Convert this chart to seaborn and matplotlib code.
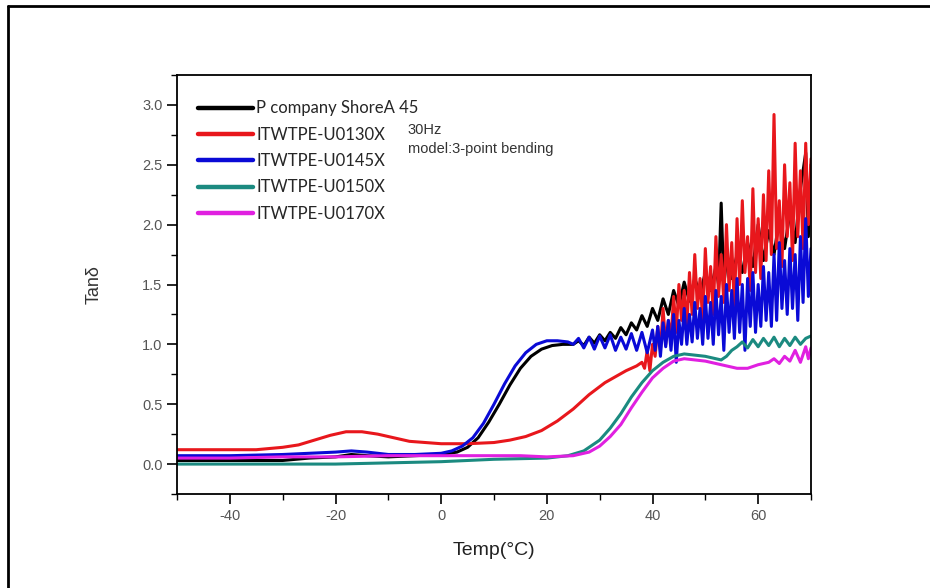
import numpy as np
import pandas as pd
import matplotlib
matplotlib.use("Agg")
import matplotlib.pyplot as plt
import seaborn as sns
from matplotlib.ticker import MultipleLocator
from matplotlib.lines import Line2D

series_names = ["P company ShoreA 45", "ITWTPE-U0130X", "ITWTPE-U0145X",
                "ITWTPE-U0150X", "ITWTPE-U0170X"]
colors = ["#000000", "#e8171c", "#0a0ad6", "#1b8a80", "#e020e0"]

black_x = [-50, -40, -30, -25, -20, -17, -14, -10, -5, 0, 3, 5, 7, 9, 11, 13, 15, 17, 19, 21, 23, 25,
           26, 27, 28, 29, 30, 31, 32, 33, 34, 35, 36, 37, 38, 39, 40, 41, 42, 43, 44, 45, 46, 47, 48,
           49, 50, 51, 52, 52.5, 53, 53.5, 54, 55, 56, 57, 58, 59, 60, 61, 62, 63, 64, 65, 66, 67, 68,
           69, 69.5, 70]
black_y = [0.03, 0.03, 0.03, 0.05, 0.06, 0.08, 0.07, 0.06, 0.07, 0.08, 0.10, 0.14, 0.22, 0.35, 0.50,
           0.66, 0.80, 0.90, 0.96, 0.99, 1.00, 1.00,
           1.03, 0.99, 1.06, 1.01, 1.08, 1.03, 1.10, 1.05, 1.14, 1.08, 1.18, 1.12, 1.24, 1.15, 1.30,
           1.20, 1.38, 1.25, 1.45, 1.32, 1.52, 1.36, 1.55, 1.42, 1.60, 1.45, 1.65, 1.50, 2.18, 1.50,
           1.70, 1.55, 1.75, 1.60, 1.85, 1.65, 2.00, 1.70, 1.95, 1.75, 2.05, 1.80, 2.10, 1.85, 2.30,
           2.60, 1.90, 2.50]

red_x = [-50, -40, -35, -30, -27, -24, -21, -18, -15, -12, -9, -6, -3, 0, 5, 10, 13, 16, 19, 22, 25,
         28, 31, 33, 35, 37,
         38, 38.5, 39, 39.5, 40, 40.5, 41, 41.5, 42, 42.5, 43, 43.5, 44, 44.5, 45, 45.5, 46, 46.5,
         47, 47.5, 48, 48.5, 49, 49.5, 50, 50.5, 51, 51.5, 52, 52.5, 53, 53.5, 54, 54.5, 55, 55.5,
         56, 56.5, 57, 57.5, 58, 58.5, 59, 59.5, 60, 60.5, 61, 61.5, 62, 62.5, 63, 63.5, 64, 64.5,
         65, 65.5, 66, 66.5, 67, 67.5, 68, 68.5, 69, 69.5, 70]
red_y = [0.12, 0.12, 0.12, 0.14, 0.16, 0.20, 0.24, 0.27, 0.27, 0.25, 0.22, 0.19, 0.18, 0.17, 0.17,
         0.18, 0.20, 0.23, 0.28, 0.36, 0.46, 0.58, 0.68, 0.73, 0.78, 0.82,
         0.85, 0.80, 0.95, 0.78, 1.00, 0.90, 1.15, 0.95, 1.30, 1.00, 1.20, 1.05, 1.40, 1.10, 1.50,
         1.20, 1.45, 1.15, 1.60, 1.25, 1.75, 1.30, 1.55, 1.20, 1.80, 1.35, 1.65, 1.25, 1.90, 1.40,
         1.75, 1.35, 2.00, 1.45, 1.85, 1.30, 2.05, 1.50, 2.20, 1.60, 1.90, 1.45, 2.30, 1.60, 2.05,
         1.55, 2.25, 1.70, 2.45, 1.75, 2.92, 1.80, 2.20, 1.65, 2.50, 1.90, 2.35, 1.70, 2.68, 1.90,
         2.45, 1.80, 2.68, 2.00, 2.55]

blue_x = [-50, -40, -30, -25, -20, -17, -14, -10, -5, 0, 2, 4, 6, 8, 10, 12, 14, 16, 18, 20, 22, 24,
          25, 26, 27, 28, 29, 30, 31, 32, 33, 34, 35, 36, 37, 38, 39, 40, 40.5, 41, 41.5, 42, 42.5,
          43, 43.5, 44, 44.5, 45, 45.5, 46, 46.5, 47, 47.5, 48, 48.5, 49, 49.5, 50, 50.5, 51, 51.5,
          52, 52.5, 53, 53.5, 54, 54.5, 55, 55.5, 56, 56.5, 57, 57.5, 58, 58.5, 59, 59.5, 60, 60.5,
          61, 61.5, 62, 62.5, 63, 63.5, 64, 64.5, 65, 65.5, 66, 66.5, 67, 67.5, 68, 68.5, 69, 69.5,
          70]
blue_y = [0.07, 0.07, 0.08, 0.09, 0.10, 0.11, 0.10, 0.08, 0.08, 0.09, 0.11, 0.15, 0.22, 0.34, 0.50,
          0.67, 0.82, 0.93, 1.00, 1.03, 1.03, 1.02,
          1.00, 1.05, 0.97, 1.06, 0.96, 1.07, 0.97, 1.08, 0.95, 1.06, 0.96, 1.09, 0.95, 1.10, 0.93,
          1.12, 0.95, 1.15, 0.90, 1.18, 0.98, 1.20, 0.95, 1.25, 0.85, 1.20, 1.00, 1.30, 1.00, 1.25,
          1.02, 1.35, 1.05, 1.30, 1.00, 1.40, 1.05, 1.35, 1.00, 1.45, 1.08, 1.40, 0.95, 1.50, 1.10,
          1.45, 1.05, 1.55, 1.10, 1.50, 0.95, 1.55, 1.15, 1.60, 1.10, 1.50, 1.15, 1.65, 1.20, 1.60,
          1.15, 1.75, 1.20, 1.85, 1.30, 1.70, 1.25, 1.80, 1.30, 1.75, 1.20, 1.90, 1.35, 2.05, 1.40,
          1.80]

teal_x = [-50, -40, -30, -20, -10, 0, 10, 20, 24, 27, 30, 32, 34, 36, 38, 40, 42, 44, 46, 48, 50, 52,
          53, 54, 55, 56, 57, 58, 59, 60, 61, 62, 63, 64, 65, 66, 67, 68, 69, 70]
teal_y = [0.00, 0.00, 0.00, 0.00, 0.01, 0.02, 0.04, 0.05, 0.07, 0.11, 0.20, 0.30, 0.42, 0.56, 0.68,
          0.78, 0.85, 0.90, 0.92, 0.91, 0.90, 0.88, 0.87, 0.90, 0.95, 0.98, 1.02, 0.97, 1.04, 0.98,
          1.05, 0.99, 1.06, 0.98, 1.05, 0.99, 1.06, 1.00, 1.05, 1.07]

mag_x = [-50, -40, -30, -20, -10, 0, 10, 15, 20, 25, 28, 30, 32, 34, 36, 38, 40, 42, 44, 46, 48, 50,
         52, 54, 56, 58, 60, 62, 63, 64, 65, 66, 67, 68, 69, 69.5, 70]
mag_y = [0.05, 0.05, 0.06, 0.06, 0.07, 0.07, 0.07, 0.07, 0.06, 0.07, 0.10, 0.15, 0.23, 0.33, 0.47,
         0.60, 0.72, 0.80, 0.86, 0.88, 0.87, 0.86, 0.84, 0.82, 0.80, 0.80, 0.83, 0.85, 0.88, 0.84,
         0.90, 0.86, 0.95, 0.85, 0.98, 0.88, 0.97]

x_ticks = [-40, -20, 0, 20, 40, 60]
y_ticks = [0.0, 0.5, 1.0, 1.5, 2.0, 2.5, 3.0]

frames = []
for name, xs, ys in zip(series_names,
                        [black_x, red_x, blue_x, teal_x, mag_x],
                        [black_y, red_y, blue_y, teal_y, mag_y]):
    frames.append(pd.DataFrame({"Temp": xs, "Tan": ys, "Sample": name}))
df = pd.concat(frames, ignore_index=True)

sns.set_style("white")
plt.rcParams["font.family"] = ["Liberation Sans", "DejaVu Sans"]

fig = plt.figure(figsize=(9.3, 5.88), dpi=100)
ax = fig.add_axes([177 / 930, 1 - 494 / 588, (811 - 177) / 930, (494 - 75) / 588])

sns.lineplot(data=df, x="Temp", y="Tan", hue="Sample", hue_order=series_names,
             palette=colors, sort=False, estimator=None, linewidth=2.2, ax=ax, legend=False)

ax.set_xlim(-50, 70)
ax.set_ylim(-0.25, 3.25)
ax.set_xticks(x_ticks)
ax.set_xticklabels([str(v) for v in x_ticks])
ax.set_yticks(y_ticks)
ax.set_yticklabels([f"{v:.1f}" for v in y_ticks])
ax.xaxis.set_minor_locator(MultipleLocator(10))
ax.yaxis.set_minor_locator(MultipleLocator(0.25))
ax.tick_params(axis="both", which="major", direction="out", length=7, width=1.2,
               labelsize=10.5, labelcolor="#555555", color="black")
ax.tick_params(axis="both", which="minor", direction="out", length=4, width=1.0, color="black")
ax.tick_params(axis="x", which="both", bottom=True, top=False)
ax.tick_params(axis="y", which="both", left=True, right=False)
for sp in ax.spines.values():
    sp.set_visible(True)
    sp.set_color("black")
    sp.set_linewidth(1.3)

ax.set_xlabel("Temp(°C)", fontsize=14, color="#222222", labelpad=14)
ax.set_ylabel("Tanδ", fontsize=13, color="#333333", labelpad=28)

handles = [Line2D([0], [0], color=c, lw=3.2) for c in colors]
leg = ax.legend(handles, series_names, loc="upper left", bbox_to_anchor=(0.009, 0.975),
                frameon=False, handlelength=3.3, handletextpad=0.2, labelspacing=0.62,
                prop={"family": ["Lato", "DejaVu Sans"], "size": 12})

ax.text(0.364, 0.885, "30Hz\nmodel:3-point bending", transform=ax.transAxes,
        fontsize=10.5, color="#333333", va="top", ha="left", linespacing=1.4)

# outer frame (top and left edges visible in reference)
fig.add_artist(Line2D([8 / 930, 8 / 930], [0, 1 - 6 / 588], transform=fig.transFigure,
                      color="black", lw=2))
fig.add_artist(Line2D([8 / 930, 1], [1 - 6 / 588, 1 - 6 / 588], transform=fig.transFigure,
                      color="black", lw=2))

fig.savefig("out.png", dpi=100, facecolor="white")
